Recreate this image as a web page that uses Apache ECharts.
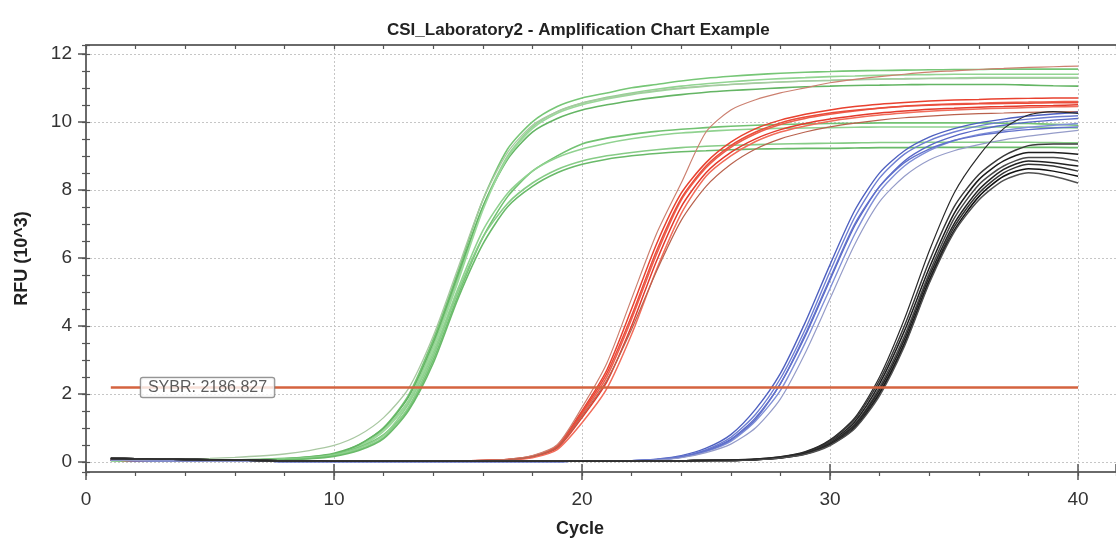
<!DOCTYPE html>
<html><head><meta charset="utf-8">
<script src="https://cdn.jsdelivr.net/npm/echarts@6/dist/echarts.min.js"></script>
<style>html,body{margin:0;padding:0;background:#fff}#c{width:1116px;height:538px}</style>
</head><body><div id="c"></div>
<script>
const TITLE = 'CSI_Laboratory2 - Amplification Chart Example';
const X_NAME = 'Cycle';
const Y_NAME = 'RFU (10^3)';
const THRESHOLD = 2.186827;
const THRESHOLD_LABEL = 'SYBR: 2186.827';
const CYCLES = [1,2,3,4,5,6,7,8,9,10,11,12,13,14,15,16,17,18,19,20,21,22,23,24,25,26,27,28,29,30,31,32,33,34,35,36,37,38,39,40];

// Green wells (RFU x10^3)
const GREEN_1 = [0.06,0.05,0.05,0.05,0.05,0.06,0.07,0.1,0.15,0.22,0.5,1.0,1.95,3.6,5.6,7.7,9.2,10.0,10.45,10.7,10.85,11.0,11.1,11.2,11.28,11.34,11.39,11.43,11.46,11.48,11.5,11.51,11.52,11.53,11.54,11.54,11.55,11.55,11.55,11.55];
const GREEN_2 = [0.05,0.05,0.04,0.04,0.04,0.05,0.06,0.08,0.13,0.22,0.45,0.95,1.8,3.4,5.4,7.5,9.0,9.85,10.3,10.55,10.72,10.85,10.96,11.05,11.12,11.18,11.23,11.27,11.3,11.33,11.35,11.37,11.38,11.39,11.4,11.4,11.4,11.4,11.4,11.4];
const GREEN_3 = [0.05,0.05,0.05,0.04,0.04,0.05,0.06,0.09,0.14,0.25,0.5,1.0,1.9,3.5,5.5,7.5,8.9,9.7,10.1,10.35,10.5,10.62,10.72,10.8,10.87,10.92,10.96,11.0,11.03,11.05,11.07,11.08,11.09,11.1,11.1,11.1,11.1,11.08,11.06,11.05];
const GREEN_4 = [0.06,0.06,0.07,0.08,0.1,0.13,0.17,0.23,0.33,0.48,0.78,1.3,2.15,3.7,5.7,7.7,9.1,9.9,10.3,10.55,10.7,10.82,10.92,11.0,11.06,11.1,11.14,11.17,11.2,11.22,11.24,11.25,11.26,11.27,11.27,11.28,11.28,11.28,11.28,11.28];
const GREEN_5 = [0.04,0.04,0.04,0.03,0.03,0.04,0.05,0.07,0.12,0.22,0.42,0.8,1.55,3.0,4.9,6.6,7.8,8.55,9.0,9.35,9.52,9.63,9.72,9.78,9.83,9.87,9.9,9.92,9.94,9.95,9.96,9.97,9.97,9.97,9.97,9.97,9.96,9.95,9.93,9.9];
const GREEN_6 = [0.04,0.04,0.03,0.03,0.03,0.04,0.05,0.07,0.11,0.2,0.4,0.78,1.7,3.2,5.1,6.8,7.9,8.55,8.95,9.2,9.37,9.5,9.6,9.67,9.72,9.76,9.79,9.81,9.82,9.83,9.84,9.85,9.85,9.85,9.85,9.85,9.85,9.84,9.83,9.82];
const GREEN_7 = [0.04,0.03,0.03,0.03,0.03,0.03,0.04,0.06,0.1,0.18,0.36,0.72,1.6,3.1,5.0,6.6,7.6,8.2,8.6,8.85,9.0,9.1,9.18,9.24,9.28,9.31,9.33,9.35,9.36,9.37,9.38,9.39,9.39,9.4,9.4,9.4,9.4,9.4,9.39,9.38];
const GREEN_8 = [0.04,0.03,0.03,0.03,0.03,0.03,0.04,0.06,0.09,0.16,0.33,0.68,1.5,2.9,4.8,6.4,7.5,8.1,8.5,8.75,8.9,9.0,9.07,9.12,9.15,9.18,9.2,9.21,9.22,9.22,9.23,9.24,9.24,9.25,9.25,9.25,9.25,9.25,9.25,9.24];
const GREEN_9 = [0.05,0.05,0.04,0.04,0.04,0.05,0.06,0.08,0.12,0.2,0.42,0.9,1.75,3.3,5.3,7.4,8.95,9.8,10.25,10.5,10.67,10.8,10.9,10.98,11.05,11.1,11.14,11.17,11.2,11.22,11.24,11.26,11.27,11.28,11.29,11.3,11.3,11.3,11.3,11.3];

// Red wells
const RED_1 = [0.05,0.04,0.04,0.03,0.03,0.02,0.02,0.02,0.02,0.02,0.02,0.02,0.02,0.02,0.03,0.04,0.07,0.18,0.5,1.6,2.9,4.8,6.7,8.2,9.7,10.35,10.65,10.85,11.0,11.15,11.25,11.33,11.4,11.46,11.5,11.54,11.57,11.6,11.62,11.64];
const RED_2 = [0.05,0.04,0.04,0.03,0.03,0.02,0.02,0.02,0.02,0.02,0.02,0.02,0.02,0.03,0.03,0.04,0.07,0.17,0.48,1.5,2.7,4.5,6.4,7.9,8.8,9.4,9.8,10.05,10.22,10.35,10.45,10.52,10.57,10.61,10.64,10.66,10.68,10.69,10.7,10.7];
const RED_3 = [0.05,0.04,0.04,0.03,0.03,0.02,0.02,0.02,0.02,0.02,0.02,0.02,0.02,0.03,0.03,0.04,0.06,0.15,0.44,1.4,2.5,4.2,6.1,7.7,8.65,9.25,9.65,9.92,10.1,10.22,10.32,10.4,10.46,10.5,10.53,10.55,10.57,10.58,10.59,10.6];
const RED_4 = [0.05,0.04,0.04,0.03,0.03,0.02,0.02,0.02,0.02,0.02,0.02,0.02,0.02,0.03,0.03,0.03,0.06,0.14,0.4,1.3,2.35,4.0,5.9,7.5,8.5,9.1,9.5,9.77,9.95,10.08,10.18,10.26,10.32,10.37,10.4,10.43,10.45,10.47,10.48,10.5];
const RED_5 = [0.05,0.04,0.04,0.03,0.03,0.02,0.02,0.02,0.02,0.02,0.02,0.02,0.02,0.03,0.03,0.03,0.05,0.12,0.36,1.15,2.15,3.75,5.65,7.3,8.4,9.0,9.42,9.7,9.88,10.02,10.12,10.2,10.26,10.31,10.35,10.38,10.4,10.42,10.44,10.45];
const RED_6 = [0.05,0.04,0.04,0.03,0.03,0.02,0.02,0.02,0.02,0.02,0.02,0.02,0.02,0.03,0.03,0.04,0.06,0.15,0.42,1.35,2.4,3.9,5.6,7.1,8.1,8.75,9.2,9.5,9.7,9.85,9.96,10.05,10.12,10.17,10.21,10.24,10.26,10.28,10.29,10.3];
const RED_7 = [0.05,0.04,0.04,0.03,0.03,0.02,0.02,0.02,0.02,0.02,0.02,0.02,0.02,0.03,0.03,0.04,0.07,0.16,0.46,1.45,2.6,4.3,6.2,7.75,8.7,9.3,9.7,9.97,10.14,10.26,10.34,10.41,10.46,10.49,10.51,10.53,10.54,10.55,10.56,10.56];

// Blue wells
const BLUE_1 = [0.05,0.04,0.03,0.03,0.02,0.02,0.02,0.01,0.01,0.01,0.01,0.01,0.01,0.01,0.01,0.01,0.01,0.01,0.01,0.02,0.02,0.03,0.08,0.18,0.4,0.8,1.55,2.6,4.1,5.8,7.4,8.5,9.15,9.55,9.8,9.97,10.08,10.17,10.23,10.28];
const BLUE_2 = [0.05,0.04,0.03,0.03,0.02,0.02,0.02,0.01,0.01,0.01,0.01,0.01,0.01,0.01,0.01,0.01,0.01,0.01,0.01,0.02,0.02,0.03,0.07,0.16,0.36,0.72,1.4,2.45,3.9,5.6,7.2,8.35,9.05,9.45,9.7,9.88,10.0,10.08,10.14,10.18];
const BLUE_3 = [0.05,0.04,0.03,0.03,0.02,0.02,0.02,0.01,0.01,0.01,0.01,0.01,0.01,0.01,0.01,0.01,0.01,0.01,0.01,0.02,0.02,0.03,0.06,0.14,0.33,0.66,1.3,2.3,3.7,5.35,6.95,8.1,8.85,9.3,9.58,9.77,9.9,9.99,10.05,10.1];
const BLUE_4 = [0.05,0.04,0.03,0.03,0.02,0.02,0.02,0.01,0.01,0.01,0.01,0.01,0.01,0.01,0.01,0.01,0.01,0.01,0.01,0.02,0.02,0.03,0.06,0.13,0.3,0.6,1.2,2.1,3.5,5.1,6.7,7.95,8.7,9.15,9.45,9.63,9.75,9.84,9.9,9.95];
const BLUE_5 = [0.05,0.04,0.03,0.03,0.02,0.02,0.02,0.01,0.01,0.01,0.01,0.01,0.01,0.01,0.01,0.01,0.01,0.01,0.01,0.02,0.02,0.03,0.05,0.12,0.27,0.52,1.0,1.85,3.2,4.8,6.4,7.65,8.4,8.88,9.15,9.33,9.47,9.58,9.67,9.75];
const BLUE_6 = [0.05,0.04,0.03,0.03,0.02,0.02,0.02,0.01,0.01,0.01,0.01,0.01,0.01,0.01,0.01,0.01,0.01,0.01,0.01,0.02,0.02,0.03,0.06,0.14,0.32,0.64,1.25,2.3,3.75,5.4,7.0,8.1,8.8,9.2,9.45,9.6,9.7,9.77,9.82,9.85];

// Black wells
const BLACK_1 = [0.1,0.09,0.08,0.07,0.06,0.05,0.04,0.03,0.03,0.02,0.02,0.02,0.02,0.02,0.02,0.02,0.02,0.02,0.02,0.02,0.02,0.02,0.03,0.03,0.04,0.05,0.08,0.15,0.3,0.65,1.3,2.5,4.2,6.2,7.9,9.0,9.8,10.2,10.3,10.25];
const BLACK_2 = [0.1,0.09,0.08,0.07,0.06,0.05,0.04,0.03,0.03,0.02,0.02,0.02,0.02,0.02,0.02,0.02,0.02,0.02,0.02,0.02,0.02,0.02,0.03,0.03,0.04,0.05,0.08,0.14,0.28,0.62,1.25,2.4,4.0,5.9,7.5,8.45,9.0,9.3,9.35,9.35];
const BLACK_3 = [0.1,0.09,0.08,0.07,0.06,0.05,0.04,0.03,0.03,0.02,0.02,0.02,0.02,0.02,0.02,0.02,0.02,0.02,0.02,0.02,0.02,0.02,0.03,0.03,0.04,0.05,0.07,0.13,0.27,0.58,1.18,2.3,3.85,5.7,7.3,8.3,8.85,9.1,9.1,9.05];
const BLACK_4 = [0.1,0.09,0.08,0.07,0.06,0.05,0.04,0.03,0.03,0.02,0.02,0.02,0.02,0.02,0.02,0.02,0.02,0.02,0.02,0.02,0.02,0.02,0.03,0.03,0.04,0.04,0.07,0.13,0.26,0.56,1.12,2.2,3.7,5.55,7.15,8.15,8.7,8.95,8.95,8.85];
const BLACK_5 = [0.1,0.09,0.08,0.07,0.06,0.05,0.04,0.03,0.03,0.02,0.02,0.02,0.02,0.02,0.02,0.02,0.02,0.02,0.02,0.02,0.02,0.02,0.03,0.03,0.04,0.04,0.07,0.12,0.25,0.54,1.08,2.12,3.6,5.45,7.0,8.0,8.6,8.85,8.8,8.7];
const BLACK_6 = [0.1,0.09,0.08,0.07,0.06,0.05,0.04,0.03,0.03,0.02,0.02,0.02,0.02,0.02,0.02,0.02,0.02,0.02,0.02,0.02,0.02,0.02,0.03,0.03,0.04,0.04,0.06,0.12,0.24,0.52,1.05,2.05,3.5,5.35,6.9,7.9,8.5,8.75,8.7,8.55];
const BLACK_7 = [0.1,0.09,0.08,0.07,0.06,0.05,0.04,0.03,0.03,0.02,0.02,0.02,0.02,0.02,0.02,0.02,0.02,0.02,0.02,0.02,0.02,0.02,0.03,0.03,0.04,0.04,0.06,0.11,0.23,0.5,1.0,2.0,3.45,5.3,6.8,7.8,8.4,8.62,8.55,8.4];
const BLACK_8 = [0.1,0.09,0.08,0.07,0.06,0.05,0.04,0.03,0.03,0.02,0.02,0.02,0.02,0.02,0.02,0.02,0.02,0.02,0.02,0.02,0.02,0.02,0.03,0.03,0.04,0.04,0.06,0.11,0.22,0.48,0.98,1.95,3.4,5.25,6.75,7.7,8.28,8.5,8.4,8.2];

// ---- styling / layout (not data) ----
const FONT = "'Liberation Sans', Arial, sans-serif";
const X_MAX = 41.53, Y_MIN = -0.3, Y_MAX = 12.26;
const LABEL_AT_CYCLE = 4.9;
const STYLE = [
  {curves:[GREEN_1,GREEN_2,GREEN_3,GREEN_9,GREEN_5,GREEN_6,GREEN_7,GREEN_8], colors:['#76c676','#92d492','#64b564','#9ad89a','#72c272','#90d290','#86cc86','#69ba69'], width:1.6},
  {curves:[GREEN_4], colors:['#a9c8a2'], width:1.3},
  {curves:[RED_2,RED_3,RED_4,RED_5,RED_7], colors:['#e8412f','#ef5d4b','#e33a2c','#f26c5a','#e94c3b'], width:1.5},
  {curves:[RED_1,RED_6], colors:['#cc8070','#b9624e'], width:1.2},
  {curves:[BLUE_1,BLUE_2,BLUE_3,BLUE_4,BLUE_6], colors:['#4f61c0','#6e7ed2','#5868c6','#8090d8','#6272cc'], width:1.4},
  {curves:[BLUE_5], colors:['#959cc9'], width:1.2},
  {curves:[BLACK_2,BLACK_3,BLACK_4,BLACK_5,BLACK_6,BLACK_7,BLACK_8], colors:['#3a3a3a','#1c1c1c','#484848','#222','#333','#111','#505050'], width:1.5},
  {curves:[BLACK_1], colors:['#2a2a2a'], width:1.2}
];

const series = [];
STYLE.forEach(g => {
  g.curves.forEach((vals, i) => {
    series.push({
      type:'line', xAxisIndex:0, yAxisIndex:0,
      data: CYCLES.map((c, k) => [c, vals[k]]),
      symbol:'none', silent:true, animation:false, smooth:0.25,
      lineStyle:{color:g.colors[i % g.colors.length], width:g.width}
    });
  });
});
series.push({
  type:'line', xAxisIndex:0, yAxisIndex:0,
  data:[[CYCLES[0], THRESHOLD],[CYCLES[CYCLES.length-1], THRESHOLD]],
  symbol:'none', silent:true, animation:false, z:5,
  lineStyle:{color:'#d4633f', width:2.4}
});
series.push({
  type:'scatter', xAxisIndex:0, yAxisIndex:0, z:6,
  data:[[LABEL_AT_CYCLE, THRESHOLD]], symbolSize:0, silent:true, animation:false,
  label:{show:true, position:'inside', formatter:THRESHOLD_LABEL, fontFamily:FONT, fontSize:16, color:'#333',
    backgroundColor:'#fff', borderColor:'#7a7a7a', borderWidth:1.2, borderRadius:2, padding:[2,7,1,7]}
});

const gridLine = {show:true, showMinLine:false, showMaxLine:false, lineStyle:{color:'#c6c6c6', width:1, type:[2,2]}};
const axisCol = '#6a6a6a';
const option = {
  backgroundColor:'#fff',
  animation:false,
  title:{text:TITLE, left:382, top:17, textStyle:{fontFamily:FONT, fontSize:17, fontWeight:'bold', color:'#222'}},
  grid:{left:86, right:0, top:45, bottom:66, containLabel:false},
  xAxis:[
    {type:'value', min:0, max:X_MAX, minInterval:10, maxInterval:10, splitNumber:4, position:'bottom',
      axisLine:{show:true, onZero:false, lineStyle:{color:axisCol, width:2}},
      axisTick:{show:true, length:8, lineStyle:{color:'#555', width:1.5}},
      axisLabel:{fontFamily:FONT, fontSize:19, color:'#333', margin:18, showMaxLabel:false},
      splitLine:gridLine},
    {type:'value', min:0, max:X_MAX, interval:2, position:'bottom',
      axisLine:{show:false, onZero:false}, axisTick:{show:true, length:4, lineStyle:{color:'#555', width:1.2}},
      axisLabel:{show:false}, splitLine:{show:false}},
    {type:'value', min:0, max:X_MAX, minInterval:10, maxInterval:10, splitNumber:4, position:'bottom',
      axisLine:{show:false, onZero:false}, axisTick:{show:true, inside:true, length:8, lineStyle:{color:'#555', width:1.5}},
      axisLabel:{show:false}, splitLine:{show:false}},
    {type:'value', min:0, max:X_MAX, interval:2, position:'top',
      axisLine:{show:true, onZero:false, lineStyle:{color:axisCol, width:2}},
      axisTick:{show:true, inside:true, length:4, lineStyle:{color:'#555', width:1.2}},
      axisLabel:{show:false}, splitLine:{show:false}}
  ],
  yAxis:[
    {type:'value', min:Y_MIN, max:Y_MAX, minInterval:2, maxInterval:2, splitNumber:6,
      name:Y_NAME, nameLocation:'middle', nameGap:55,
      nameTextStyle:{fontFamily:FONT, fontSize:18, fontWeight:'bold', color:'#222'},
      axisLine:{show:true, onZero:false, lineStyle:{color:axisCol, width:2}},
      axisTick:{show:true, length:8, lineStyle:{color:'#555', width:1.5}},
      axisLabel:{fontFamily:FONT, fontSize:19, color:'#333', margin:14, showMinLabel:false, showMaxLabel:false},
      splitLine:gridLine},
    {type:'value', min:Y_MIN, max:Y_MAX, minInterval:0.5, maxInterval:0.5, splitNumber:25, position:'left',
      axisLine:{show:false, onZero:false}, axisTick:{show:true, length:4, lineStyle:{color:'#555', width:1.2}},
      axisLabel:{show:false}, splitLine:{show:false}},
    {type:'value', min:Y_MIN, max:Y_MAX, minInterval:0.5, maxInterval:0.5, splitNumber:25, position:'left',
      axisLine:{show:false, onZero:false}, axisTick:{show:true, inside:true, length:4, lineStyle:{color:'#555', width:1.2}},
      axisLabel:{show:false}, splitLine:{show:false}}
  ],
  graphic:[{type:'text', left:556, top:520, style:{text:X_NAME, font:"bold 18px 'Liberation Sans', Arial, sans-serif", fill:'#222'}}],
  series:series
};
const chart = echarts.init(document.getElementById('c'), null, {renderer:'canvas'});
chart.setOption(option);
</script></body></html>
